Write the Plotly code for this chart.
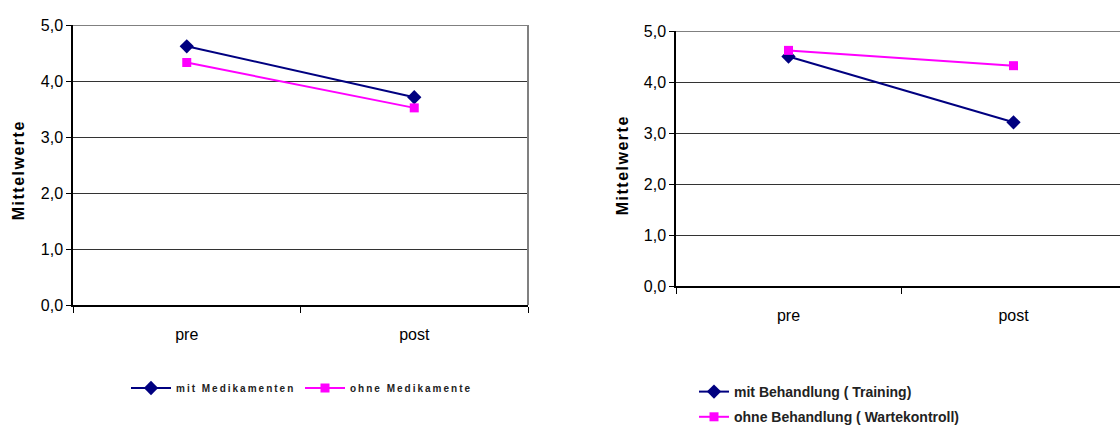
import plotly.graph_objects as go

categories = ["pre", "post"]
left_mit = [4.62, 3.71]
left_ohne = [4.33, 3.52]
right_mit = [4.50, 3.21]
right_ohne = [4.62, 4.32]
left_names = ["mit Medikamenten", "ohne Medikamente"]
right_names = ["mit Behandlung ( Training)", "ohne Behandlung ( Wartekontroll)"]
y_ticks = [0, 1, 2, 3, 4, 5]
y_title = "Mittelwerte"

W, H = 1120, 428
NAVY = "#000080"
MAG = "#FF00FF"
TICKFONT = dict(family="Liberation Sans, Arial", size=16, color="#000")

def px_x(p):
    return p / W

def px_y(p):
    return 1 - p / H

fig = go.Figure()

def add_pair(xa, ya, mit, ohne, names, legend):
    fig.add_trace(go.Scatter(x=categories, y=mit, name=names[0], mode="lines+markers",
                             line=dict(color=NAVY, width=2),
                             marker=dict(symbol="diamond", size=11, color=NAVY),
                             xaxis=xa, yaxis=ya, legend=legend, legendgroup=legend + "a"))
    fig.add_trace(go.Scatter(x=categories, y=ohne, name=names[1], mode="lines+markers",
                             line=dict(color=MAG, width=2),
                             marker=dict(symbol="square", size=9, color=MAG),
                             xaxis=xa, yaxis=ya, legend=legend, legendgroup=legend + "b"))

add_pair("x", "y", left_mit, left_ohne, left_names, "legend")
add_pair("x2", "y2", right_mit, right_ohne, right_names, "legend2")

def xaxis(domain, rng):
    return dict(domain=domain, type="category", range=rng, tickson="boundaries",
                ticks="outside", ticklen=6, tickcolor="#000", showline=True, linecolor="#000",
                linewidth=1.5, showgrid=False, tickfont=TICKFONT, ticklabelstandoff=14,
                zeroline=False, fixedrange=True)

def yaxis(domain, anchor):
    return dict(domain=domain, range=[0, 5], tickvals=y_ticks, tickformat=".1f",
                ticks="outside", ticklen=5, tickcolor="#000", showline=True, linecolor="#000",
                linewidth=1.5, showgrid=True, gridcolor="#333", gridwidth=1,
                tickfont=TICKFONT, zeroline=False, anchor=anchor, fixedrange=True)

fig.update_layout(
    width=W, height=H, margin=dict(l=0, r=0, t=0, b=0, autoexpand=False),
    paper_bgcolor="white", plot_bgcolor="white",
    separators=",.",
    xaxis=dict(**xaxis([px_x(73), px_x(528)], [-0.5, 1.5]), anchor="y"),
    yaxis=yaxis([px_y(305), px_y(25)], "x"),
    xaxis2=dict(**xaxis([px_x(676), 1.0], [-0.5, 1.5 - 6 / 225]), anchor="y2"),
    yaxis2=yaxis([px_y(286), px_y(31)], "x2"),
    legend=dict(orientation="h", x=px_x(126), xanchor="left", y=px_y(388), yanchor="middle",
                font=dict(family="Liberation Sans, Arial", size=10, color="#222", weight="bold"),
                bgcolor="rgba(0,0,0,0)", itemwidth=40, entrywidth=119, entrywidthmode="pixels"),
    legend2=dict(orientation="v", x=px_x(694), xanchor="left", y=px_y(376), yanchor="top",
                 font=dict(family="Liberation Sans, Arial", size=14, color="#222", weight="bold"),
                 bgcolor="rgba(0,0,0,0)", tracegroupgap=4),
    showlegend=True,
)

# grey frame lines (top and right) of plot areas
for xr, yr in [("x domain", "y"), ("x2 domain", "y2")]:
    fig.add_shape(type="line", xref=xr, yref=yr, x0=0, x1=1, y0=5, y1=5,
                  line=dict(color="#808080", width=2))
fig.add_shape(type="line", xref="x domain", yref="y domain", x0=1, x1=1, y0=0, y1=1,
              line=dict(color="#808080", width=2))

for xc, yc in [(18, 170), (622, 165)]:
    fig.add_annotation(text=y_title, x=px_x(xc), y=px_y(yc), xref="paper", yref="paper",
                       showarrow=False, textangle=-90, xanchor="center", yanchor="middle",
                       font=dict(family="Liberation Sans, Arial", size=16, color="#000", weight="bold"))

post = """
var s = document.createElement('style');
s.textContent =
  'text.legendtext{letter-spacing:2px}' +
  'text.legendtext[data-unformatted*="Behandlung"]{letter-spacing:0px !important}' +
  'text.annotation-text{letter-spacing:1.5px}';
document.head.appendChild(s);
"""

fig.write_html("out.html", config={"displayModeBar": False}, post_script=post)
